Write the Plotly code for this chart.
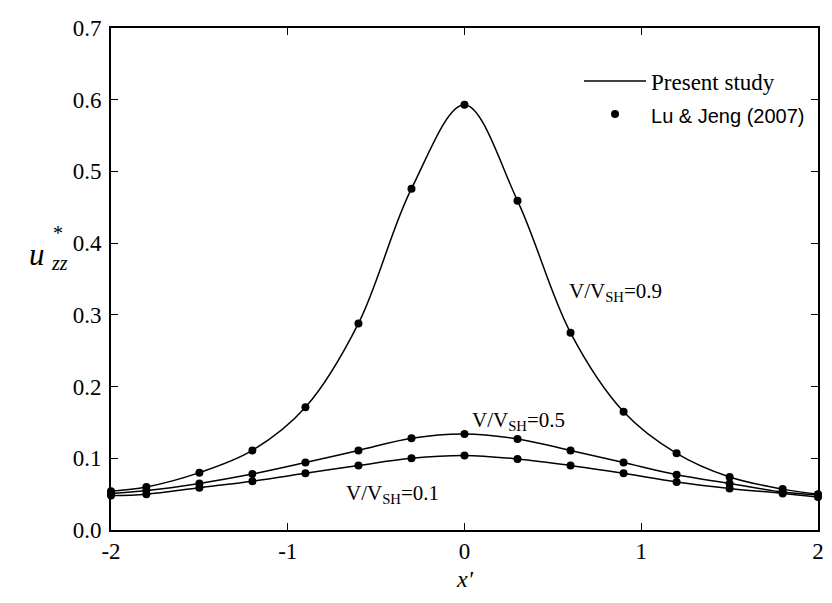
import plotly.graph_objects as go

x_vals = [-2, -1.8, -1.5, -1.2, -0.9, -0.6, -0.3, 0, 0.3, 0.6, 0.9, 1.2, 1.5, 1.8, 2]
u_09 = [0.054, 0.060, 0.080, 0.111, 0.171, 0.288, 0.476, 0.593, 0.459, 0.275, 0.165, 0.107, 0.074, 0.057, 0.050]
u_05 = [0.051, 0.055, 0.065, 0.078, 0.094, 0.111, 0.128, 0.134, 0.127, 0.111, 0.094, 0.077, 0.065, 0.053, 0.049]
u_01 = [0.048, 0.050, 0.059, 0.068, 0.079, 0.090, 0.100, 0.104, 0.099, 0.090, 0.079, 0.067, 0.058, 0.051, 0.046]

x_ticks = [-2, -1, 0, 1, 2]
x_ticktext = ["-2", "-1", "0", "1", "2"]
y_ticks = [0.0, 0.1, 0.2, 0.3, 0.4, 0.5, 0.6, 0.7]
y_ticktext = ["0.0", "0.1", "0.2", "0.3", "0.4", "0.5", "0.6", "0.7"]

curve_labels = ["V/V<sub>SH</sub>=0.9", "V/V<sub>SH</sub>=0.5", "V/V<sub>SH</sub>=0.1"]
label_x = [0.855, 0.306, -0.407]
label_y = [0.332, 0.152, 0.050]
series = [u_09, u_05, u_01]

SERIF = "Liberation Serif, Times New Roman, serif"

fig = go.Figure()
for i, ys in enumerate(series):
    fig.add_trace(go.Scatter(
        x=x_vals, y=ys, mode="lines",
        line=dict(color="black", width=1.5, shape="spline", smoothing=1.0),
        name="Present study", showlegend=(i == 0), cliponaxis=False))
for i, ys in enumerate(series):
    fig.add_trace(go.Scatter(
        x=x_vals, y=ys, mode="markers", marker=dict(color="black", size=8, symbol="circle"),
        name='<span style="font-family:Liberation Sans, Arial, sans-serif; font-size:20px">Lu &amp; Jeng (2007)</span>',
        showlegend=(i == 0), cliponaxis=False))

axis_common = dict(
    showline=True, linecolor="black", linewidth=1.6, mirror="ticks",
    ticks="inside", ticklen=7, tickwidth=1.3, tickcolor="black",
    showgrid=False, zeroline=False, ticklabeloverflow="allow",
    tickfont=dict(family=SERIF, size=23, color="black"),
)

# the page body adds an 8 px margin, so the figure is 8 px smaller here
fig.update_layout(
    width=824, height=595,
    margin=dict(l=103, r=8, t=11, b=73),
    paper_bgcolor="white", plot_bgcolor="white",
    xaxis=dict(range=[-2, 2], tickvals=x_ticks, ticktext=x_ticktext, ticklabelstandoff=0, **axis_common),
    yaxis=dict(range=[0, 0.7], tickvals=y_ticks, ticktext=y_ticktext, ticklabelstandoff=3, **axis_common),
    legend=dict(x=0.662, y=0.937, xanchor="left", yanchor="top", bgcolor="rgba(0,0,0,0)",
                font=dict(family=SERIF, size=23, color="black"), traceorder="normal",
                itemwidth=62, tracegroupgap=0),
    showlegend=True,
)

ann_font = dict(family=SERIF, size=21, color="black")
for txt, lx, ly in zip(curve_labels, label_x, label_y):
    fig.add_annotation(x=lx, y=ly, xref="x", yref="y", text=txt,
                       showarrow=False, xanchor="center", yanchor="middle", font=ann_font)

fig.add_annotation(x=0.5, y=-0.097, xref="paper", yref="paper", text="<i>x'</i>",
                   showarrow=False, xanchor="center", yanchor="middle",
                   font=dict(family=SERIF, size=24, color="black"))
fig.add_annotation(x=-0.104, y=0.548, xref="paper", yref="paper", text="<i>u</i>",
                   showarrow=False, xanchor="center", yanchor="middle",
                   font=dict(family=SERIF, size=31, color="black"))
fig.add_annotation(x=-0.0755, y=0.592, xref="paper", yref="paper", text="*",
                   showarrow=False, xanchor="center", yanchor="middle",
                   font=dict(family=SERIF, size=20, color="black"))
fig.add_annotation(x=-0.0725, y=0.532, xref="paper", yref="paper", text="<i>zz</i>",
                   showarrow=False, xanchor="center", yanchor="middle",
                   font=dict(family=SERIF, size=20, color="black"))

fig.write_html("out.html")
